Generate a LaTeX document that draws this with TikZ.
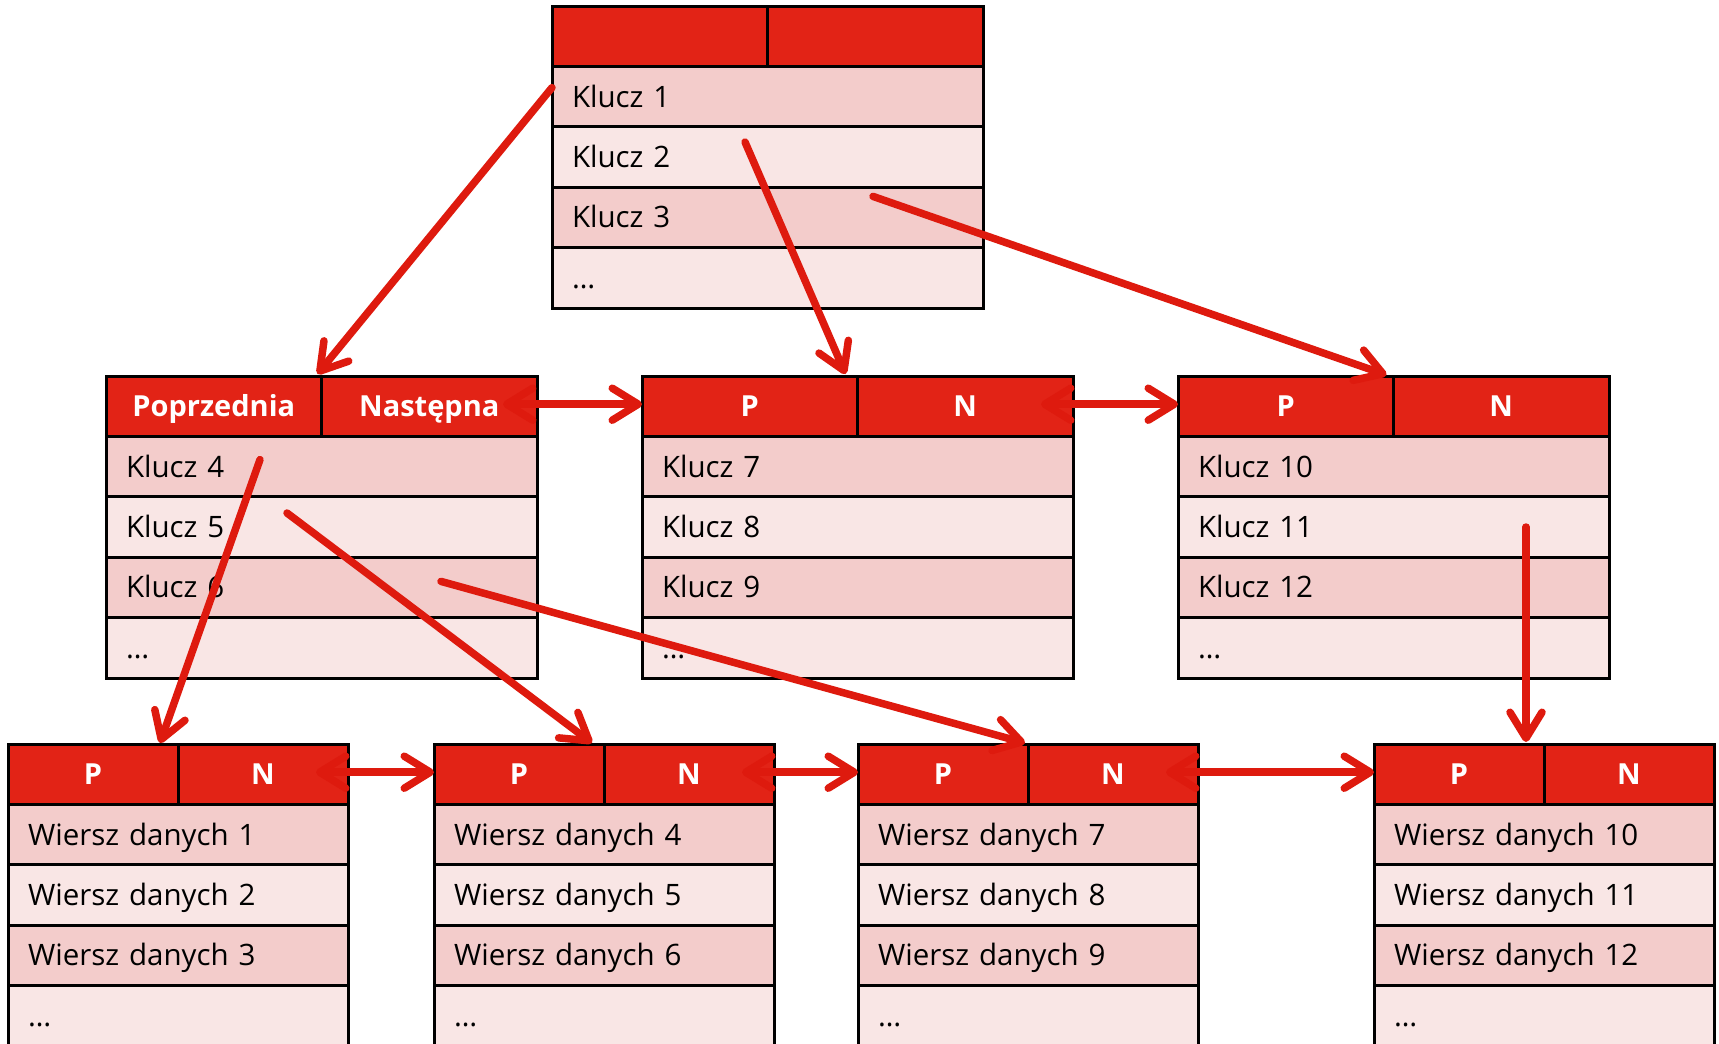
\documentclass[tikz,border=0pt]{standalone}
\usepackage{fontspec}
\setmainfont{Open Sans}
\usetikzlibrary{arrows.meta}
\definecolor{hdrred}{RGB}{226,35,22}
\definecolor{arrred}{RGB}{222,26,14}
\definecolor{rowdark}{RGB}{243,204,203}
\definecolor{rowlight}{RGB}{249,230,229}
\tikzset{
  cellbase/.style={draw=black, line width=3pt, outer sep=0pt, inner ysep=0pt,
    minimum height=60.4pt, text height=21pt, text depth=0pt, anchor=north west},
  hcell/.style={cellbase, fill=hdrred, text=white, inner xsep=0pt,
    font=\fontsize{29}{34}\selectfont\bfseries},
  rcell/.style={cellbase, inner xsep=20pt, align=left,
    font=\fontsize{29.5}{34}\selectfont},
  rowA/.style={rcell, fill=rowdark},
  rowB/.style={rcell, fill=rowlight},
  barb/.tip={Straight Barb[length=26pt,width=32pt,round]},
  arr/.style={draw=arrred, line width=7.5pt, line cap=round, -barb},
  dbl/.style={draw=arrred, line width=7.5pt, line cap=round, barb-barb},
}
% #1 name, #2 x, #3 y, #4 width, #5 head1, #6 head2, #7-#9 rows
\newcommand{\mktable}[9]{%
  \pgfmathsetmacro\tabtw{#4-40}%
  \node[hcell, minimum width=#4/2] (#1-h1) at (#2,#3) {#5};
  \node[hcell, minimum width=#4/2] (#1-h2) at (#2+#4/2,#3) {#6};
  \node[rowA, text width=\tabtw pt] (#1-r1) at (#2,#3+60.4) {#7};
  \node[rowB, text width=\tabtw pt] (#1-r2) at (#2,#3+120.8) {#8};
  \node[rowA, text width=\tabtw pt] (#1-r3) at (#2,#3+181.2) {#9};
  \node[rowB, text width=\tabtw pt] (#1-r4) at (#2,#3+241.6) {…};
}
\begin{document}
\begin{tikzpicture}[x=1pt,y=-1pt]
\clip (0,0) rectangle (1719,1044);
\fill[white] (0,0) rectangle (1719,1044);

\mktable{t}{552}{6}{431}{}{}{Klucz 1}{Klucz 2}{Klucz 3}
\mktable{mL}{106}{376}{431}{Poprzednia}{Następna}{Klucz 4}{Klucz 5}{Klucz 6}
\mktable{mM}{642}{376}{431}{P}{N}{Klucz 7}{Klucz 8}{Klucz 9}
\mktable{mR}{1178}{376}{431}{P}{N}{Klucz 10}{Klucz 11}{Klucz 12}
\mktable{bA}{8}{744}{340}{P}{N}{Wiersz danych 1}{Wiersz danych 2}{Wiersz danych 3}
\mktable{bB}{434}{744}{340}{P}{N}{Wiersz danych 4}{Wiersz danych 5}{Wiersz danych 6}
\mktable{bC}{858}{744}{340}{P}{N}{Wiersz danych 7}{Wiersz danych 8}{Wiersz danych 9}
\mktable{bD}{1374}{744}{340}{P}{N}{Wiersz danych 10}{Wiersz danych 11}{Wiersz danych 12}

% level links (double arrows)
\draw[dbl] ([xshift=-34pt,yshift=2pt]mL-h2.east) -- ([yshift=2pt]mM-h1.west);
\draw[dbl] ([xshift=-32pt,yshift=2pt]mM-h2.east) -- ([yshift=2pt]mR-h1.west);
\draw[dbl] ([xshift=-32pt,yshift=2pt]bA-h2.east) -- ([yshift=2pt]bB-h1.west);
\draw[dbl] ([xshift=-32pt,yshift=2pt]bB-h2.east) -- ([yshift=2pt]bC-h1.west);
\draw[dbl] ([xshift=-32pt,yshift=2pt]bC-h2.east) -- ([yshift=2pt]bD-h1.west);

% tree pointers
\draw[arr] ([yshift=9pt]t-r1.west) -- ([xshift=-4pt,yshift=2pt]mL-h1.north east);
\draw[arr] ([xshift=193pt,yshift=15pt]t-r2.west) -- ([xshift=-12pt,yshift=2pt]mM-h1.north east);
\draw[arr] ([xshift=321pt,yshift=21pt]t-r3.west) -- ([xshift=-7pt,yshift=1pt]mR-h1.north east);
\draw[arr] ([xshift=154pt,yshift=7pt]mL-r1.west) -- ([xshift=-18pt,yshift=1pt]bA-h1.north east);
\draw[arr] ([xshift=181pt,yshift=14pt]mL-r2.west) -- ([xshift=-12pt,yshift=1pt]bB-h1.north east);
\draw[arr] ([xshift=335pt,yshift=6pt]mL-r3.west) -- ([xshift=-3pt,yshift=1pt]bC-h1.north east);
\draw[arr] ([xshift=348pt,yshift=0pt]mR-r2.west) -- ([xshift=-18pt,yshift=2pt]bD-h1.north east);
\end{tikzpicture}
\end{document}
